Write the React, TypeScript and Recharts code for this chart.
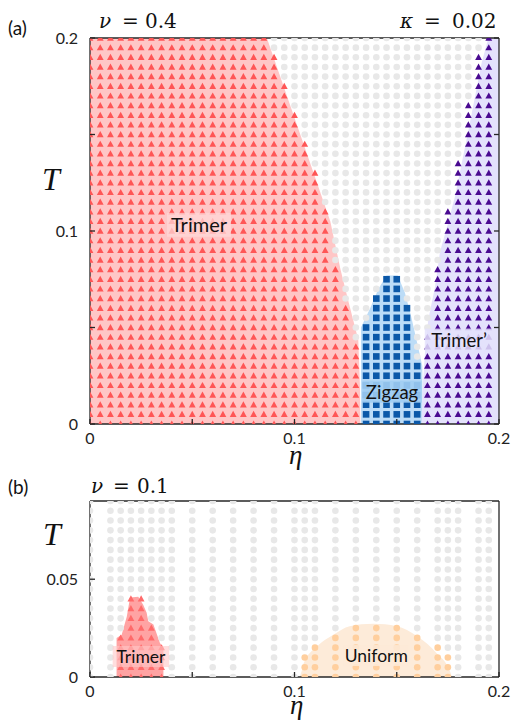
import React from "react";
import { Area, ComposedChart, Scatter, XAxis, YAxis } from "recharts";

// sampling lattice of panel (a)
const etaA = [
  0, 0.005, 0.01, 0.015, 0.02, 0.025, 0.03, 0.035, 0.04, 0.045, 0.05, 0.055,
  0.06, 0.065, 0.07, 0.075, 0.08, 0.085, 0.09, 0.095, 0.1, 0.105, 0.11, 0.115,
  0.12, 0.125, 0.13, 0.135, 0.14, 0.145, 0.15, 0.155, 0.16, 0.165, 0.17, 0.175,
  0.18, 0.185, 0.19, 0.195,
];
const tA = [
  0, 0.005, 0.01, 0.015, 0.02, 0.025, 0.03, 0.035, 0.04, 0.045, 0.05, 0.055,
  0.06, 0.065, 0.07, 0.075, 0.08, 0.085, 0.09, 0.095, 0.1, 0.105, 0.11, 0.115,
  0.12, 0.125, 0.13, 0.135, 0.14, 0.145, 0.15, 0.155, 0.16, 0.165, 0.17, 0.175,
  0.18, 0.185, 0.19, 0.195, 0.2,
];
// last trimer column for each row of tA
const trimerEdgeA = [
  0.13, 0.13, 0.13, 0.13, 0.13, 0.13, 0.13, 0.13, 0.13,
  0.125, 0.125, 0.125, 0.125,
  0.12, 0.12, 0.12, 0.12,
  0.115, 0.115, 0.115, 0.115, 0.115, 0.115,
  0.11, 0.11, 0.11, 0.11,
  0.105, 0.105, 0.105,
  0.1, 0.1, 0.1,
  0.095, 0.095, 0.095,
  0.09, 0.09, 0.09,
  0.085, 0.085,
];
// first trimer' column for each row of tA
const trimerPrimeStartA = [
  0.165, 0.165, 0.165, 0.165, 0.165, 0.165, 0.165, 0.165, 0.165, 0.165,
  0.17, 0.17, 0.17, 0.17, 0.17, 0.17, 0.17,
  0.175, 0.175, 0.175, 0.175, 0.175, 0.175,
  0.18, 0.18, 0.18, 0.18, 0.18,
  0.185, 0.185, 0.185, 0.185, 0.185, 0.185,
  0.19, 0.19, 0.19, 0.19, 0.19,
  0.195, 0.195,
];
const zigzagCols = [0.135, 0.14, 0.145, 0.15, 0.155, 0.16];
const zigzagTop = [0.05, 0.065, 0.075, 0.075, 0.06, 0.03];

// phase outlines of panel (a)
const trimerShadeEta = [0, 0.0865, 0.1175, 0.1225, 0.1265, 0.1312, 0.132, 0.1322];
const trimerShadeT = [0.2, 0.2, 0.105, 0.08, 0.063, 0.0435, 0.02, 0];
const zigzagShadeEta = [0.1325, 0.1325, 0.137, 0.141, 0.145, 0.1505, 0.154, 0.157, 0.16, 0.1625, 0.1627];
const zigzagShadeT = [0, 0.05, 0.06, 0.07, 0.077, 0.077, 0.068, 0.056, 0.042, 0.03, 0];
const primeShadeEta = [0.1622, 0.1627, 0.1638, 0.1654, 0.1687, 0.1711, 0.1748, 0.1785, 0.185, 0.1915, 0.1948, 0.2];
const primeShadeT = [0, 0.019, 0.037, 0.054, 0.071, 0.089, 0.103, 0.118, 0.152, 0.187, 0.2, 0.2];

// sampling lattice of panel (b)
const etaB = [
  0, 0.01, 0.015, 0.02, 0.025, 0.03, 0.035, 0.04, 0.05, 0.06, 0.07, 0.08, 0.09,
  0.1, 0.105, 0.11, 0.12, 0.13, 0.14, 0.15, 0.16, 0.17, 0.175, 0.18, 0.19, 0.195,
];
const tB = [
  0, 0.005, 0.01, 0.015, 0.02, 0.025, 0.03, 0.035, 0.04, 0.045, 0.05, 0.055,
  0.06, 0.065, 0.07, 0.075, 0.08, 0.085, 0.09,
];
const trimerColsB = [0.015, 0.02, 0.025, 0.03, 0.035];
const trimerTopB = [0.02, 0.04, 0.04, 0.025, 0.015];
const uniformColsB = [0.105, 0.11, 0.12, 0.13, 0.14, 0.15, 0.16, 0.17, 0.175];
const uniformTopB = [0.01, 0.015, 0.02, 0.025, 0.025, 0.025, 0.02, 0.015, 0.01];

const trimerShadeEtaB = [0.013, 0.013, 0.0155, 0.018, 0.0196, 0.0236, 0.026, 0.0277, 0.0285, 0.031, 0.0342, 0.0359, 0.0359];
const trimerShadeTB = [0, 0.02, 0.0216, 0.031, 0.0406, 0.041, 0.037, 0.0328, 0.0285, 0.0268, 0.0174, 0.015, 0];
const uniformShadeEtaB = [0.1025, 0.1035, 0.1045, 0.111, 0.119, 0.127, 0.1385, 0.15, 0.16, 0.1695, 0.176, 0.177];
const uniformShadeTB = [0, 0.003, 0.007, 0.0156, 0.0216, 0.026, 0.0272, 0.026, 0.0208, 0.0122, 0.003, 0];

// phase names and where they sit
const labelsA = [
  { eta: 0.0533, T: 0.103, text: "Trimer" },
  { eta: 0.1477, T: 0.0166, text: "Zigzag" },
  { eta: 0.1805, T: 0.0435, text: "Trimer\u2019" },
];
const labelsB = [
  { eta: 0.0249, T: 0.0103, text: "Trimer" },
  { eta: 0.14, T: 0.0108, text: "Uniform" },
];
const labelLookA = [
  { size: 20, bg: "rgba(255,215,215,0.75)" },
  { size: 18.5, bg: "rgba(160,205,242,0.9)" },
  { size: 18.5, bg: "rgba(228,226,252,0.85)" },
];
const labelLookB = [
  { size: 17.5, bg: "rgba(255,200,200,0.6)" },
  { size: 17.5, bg: "rgba(253,234,215,0.85)" },
];

const near = (a: number, b: number) => Math.abs(a - b) < 1e-9;
const zip = (xs: number[], ys: number[]) => xs.map((eta, i) => ({ eta, T: ys[i] }));

type Pt = { eta: number; T: number };

const gridA = { gray: [] as Pt[], trimer: [] as Pt[], zigzag: [] as Pt[], prime: [] as Pt[] };
tA.forEach((T, i) => {
  etaA.forEach((eta) => {
    const z = zigzagCols.findIndex((c) => near(c, eta));
    if (eta <= trimerEdgeA[i] + 1e-9) gridA.trimer.push({ eta, T });
    else if (z >= 0 && T <= zigzagTop[z] + 1e-9) gridA.zigzag.push({ eta, T });
    else if (eta >= trimerPrimeStartA[i] - 1e-9) gridA.prime.push({ eta, T });
    else gridA.gray.push({ eta, T });
  });
});

const gridB = { gray: [] as Pt[], trimer: [] as Pt[], uniform: [] as Pt[] };
tB.forEach((T) => {
  etaB.forEach((eta) => {
    const a = trimerColsB.findIndex((c) => near(c, eta));
    const b = uniformColsB.findIndex((c) => near(c, eta));
    if (a >= 0 && T <= trimerTopB[a] + 1e-9) gridB.trimer.push({ eta, T });
    else if (b >= 0 && T <= uniformTopB[b] + 1e-9) gridB.uniform.push({ eta, T });
    else gridB.gray.push({ eta, T });
  });
});

const AXIS = "#262626";
const TICK_FONT = "Lato, 'Open Sans', sans-serif";
const MATH_FONT = "'DejaVu Serif', 'Liberation Serif', serif";

const triangle = (fill: string) => (p: any) => (
  <polygon
    points={`${p.cx},${p.cy - 3.5} ${p.cx - 3.4},${p.cy + 2.7} ${p.cx + 3.4},${p.cy + 2.7}`}
    fill={fill}
  />
);
const square = (fill: string) => (p: any) => (
  <rect x={p.cx - 3.3} y={p.cy - 3.3} width={6.6} height={6.6} fill={fill} />
);
const dot = (fill: string) => (p: any) => <circle cx={p.cx} cy={p.cy} r={3.3} fill={fill} />;

const phaseLabel = (looks: { size: number; bg: string }[]) => (p: any) => {
  const { size, bg } = looks[p.index] ?? looks[0];
  const text = p.payload.text;
  const w = text.length * size * 0.5 + 4;
  return (
    <g>
      <rect x={p.cx - w / 2} y={p.cy - size * 0.62} width={w} height={size * 1.2} fill={bg} />
      <text
        x={p.cx}
        y={p.cy + size * 0.36}
        textAnchor="middle"
        fontFamily={TICK_FONT}
        fontSize={size}
        fill="#111"
      >
        {text}
      </text>
    </g>
  );
};

const tickLabel = (v: number) => String(v);

const bottomTick = (shown: number[]) => (p: any) => {
  const v = p.payload.value;
  return (
    <g>
      <line x1={p.x} y1={p.y} x2={p.x} y2={p.y - 5} stroke={AXIS} strokeWidth={1.3} />
      {shown.some((s) => near(s, v)) && (
        <text x={p.x} y={p.y + 20} textAnchor="middle" fontFamily={TICK_FONT} fontSize={16} fill="#222">
          {tickLabel(v)}
        </text>
      )}
    </g>
  );
};
const topTick = (p: any) => (
  <line x1={p.x} y1={p.y} x2={p.x} y2={p.y + 5} stroke={AXIS} strokeWidth={1.3} />
);
const leftTick = (shown: number[]) => (p: any) => {
  const v = p.payload.value;
  return (
    <g>
      <line x1={p.x} y1={p.y} x2={p.x + 5} y2={p.y} stroke={AXIS} strokeWidth={1.3} />
      {shown.some((s) => near(s, v)) && (
        <text x={p.x - 12} y={p.y + 5.5} textAnchor="end" fontFamily={TICK_FONT} fontSize={16} fill="#222">
          {tickLabel(v)}
        </text>
      )}
    </g>
  );
};
const rightTick = (p: any) => (
  <line x1={p.x} y1={p.y} x2={p.x - 5} y2={p.y} stroke={AXIS} strokeWidth={1.3} />
);
const noTick = () => <g />;

const axisLine = { stroke: AXIS, strokeWidth: 1.3 };
const xTicks = [0, 0.05, 0.1, 0.15, 0.2];

// axes are 1px thick so they still render; margins take that pixel back
const frame = (yMax: number, yTicks: number[], yShown: number[], rightTicks: boolean) => [
  <XAxis
    key="xb"
    type="number"
    dataKey="eta"
    domain={[0, 0.2]}
    ticks={xTicks}
    interval={0}
    allowDataOverflow
    height={1}
    tickSize={0}
    tickMargin={0}
    tickLine={false}
    axisLine={axisLine}
    tick={bottomTick([0, 0.1, 0.2])}
  />,
  <XAxis
    key="xt"
    xAxisId="top"
    orientation="top"
    type="number"
    domain={[0, 0.2]}
    ticks={xTicks}
    interval={0}
    allowDataOverflow
    height={1}
    tickSize={0}
    tickMargin={0}
    tickLine={false}
    axisLine={axisLine}
    tick={topTick}
  />,
  <YAxis
    key="yl"
    type="number"
    dataKey="T"
    domain={[0, yMax]}
    ticks={yTicks}
    interval={0}
    allowDataOverflow
    width={1}
    tickSize={0}
    tickMargin={0}
    tickLine={false}
    axisLine={axisLine}
    tick={leftTick(yShown)}
  />,
  <YAxis
    key="yr"
    yAxisId="right"
    orientation="right"
    type="number"
    domain={[0, yMax]}
    ticks={yTicks}
    interval={0}
    allowDataOverflow
    width={1}
    tickSize={0}
    tickMargin={0}
    tickLine={false}
    axisLine={axisLine}
    tick={rightTicks ? rightTick : noTick}
  />,
];

const PanelA = () => (
  <ComposedChart width={512} height={460} margin={{ top: 37, right: 12, bottom: 35, left: 89 }}>
    {frame(0.2, [0, 0.05, 0.1, 0.15, 0.2], [0, 0.1, 0.2], true)}
    <Area data={zip(trimerShadeEta, trimerShadeT)} dataKey="T" type="linear" stroke="none" fill="#ffc6c6" fillOpacity={1} isAnimationActive={false} />
    <Area data={zip(zigzagShadeEta, zigzagShadeT)} dataKey="T" type="linear" stroke="none" fill="#bcdcf7" fillOpacity={1} isAnimationActive={false} />
    <Area data={zip(primeShadeEta, primeShadeT)} dataKey="T" type="linear" stroke="none" fill="#e4e2fc" fillOpacity={1} isAnimationActive={false} />
    <Scatter data={gridA.gray} shape={dot("#e8e8e8")} isAnimationActive={false} />
    <Scatter data={gridA.trimer} shape={triangle("#ff5656")} isAnimationActive={false} />
    <Scatter data={gridA.zigzag} shape={square("#0b58a8")} isAnimationActive={false} />
    <Scatter data={gridA.prime} shape={triangle("#4a0b91")} isAnimationActive={false} />
    <Scatter data={labelsA} shape={phaseLabel(labelLookA)} isAnimationActive={false} />
  </ComposedChart>
);

const PanelB = () => (
  <ComposedChart width={512} height={258} margin={{ top: 30, right: 12, bottom: 50, left: 89 }}>
    {frame(0.09, [0, 0.05], [0, 0.05], false)}
    <Area data={zip(trimerShadeEtaB, trimerShadeTB)} dataKey="T" type="linear" stroke="none" fill="#ffa3a3" fillOpacity={1} isAnimationActive={false} />
    <Area data={zip(uniformShadeEtaB, uniformShadeTB)} dataKey="T" type="monotone" stroke="none" fill="#fdebd9" fillOpacity={1} isAnimationActive={false} />
    <Scatter data={gridB.gray} shape={dot("#e8e8e8")} isAnimationActive={false} />
    <Scatter data={gridB.trimer} shape={triangle("#ff6a6a")} isAnimationActive={false} />
    <Scatter data={gridB.uniform} shape={dot("#ffcf9e")} isAnimationActive={false} />
    <Scatter data={labelsB} shape={phaseLabel(labelLookB)} isAnimationActive={false} />
  </ComposedChart>
);

const Titles = () => (
  <svg width={512} height={728} style={{ position: "absolute", left: 0, top: 0, pointerEvents: "none" }}>
    <g fontFamily={TICK_FONT} fontSize={19} fill="#111">
      <text x={8} y={35}>(a)</text>
      <text x={8} y={494}>(b)</text>
    </g>
    <g fontFamily={MATH_FONT} fontSize={20} fill="#111">
      <text x={99} y={28} fontStyle="italic">ν</text>
      <text x={122} y={28}>=</text>
      <text x={145} y={28}>0.4</text>
      <text x={400} y={28} fontStyle="italic">κ</text>
      <text x={424} y={28}>=</text>
      <text x={452} y={28}>0.02</text>
      <text x={91} y={493} fontStyle="italic">ν</text>
      <text x={113} y={493}>=</text>
      <text x={137} y={493}>0.1</text>
    </g>
    <g fontFamily="'Liberation Serif', serif" fontStyle="italic" fill="#111">
      <text x={42} y={190} fontSize={32}>T</text>
      <text x={43} y={545} fontSize={32}>T</text>
      <text x={289} y={464} fontSize={27}>η</text>
      <text x={290} y={714} fontSize={27}>η</text>
    </g>
  </svg>
);

export default function App() {
  return (
    <div
      style={{
        position: "absolute",
        left: 0,
        top: 0,
        width: 512,
        height: 728,
        overflow: "hidden",
        background: "#fff",
      }}
    >
      <div style={{ position: "absolute", left: 0, top: 0 }}>
        <PanelA />
      </div>
      <div style={{ position: "absolute", left: 0, top: 470 }}>
        <PanelB />
      </div>
      <Titles />
    </div>
  );
}
